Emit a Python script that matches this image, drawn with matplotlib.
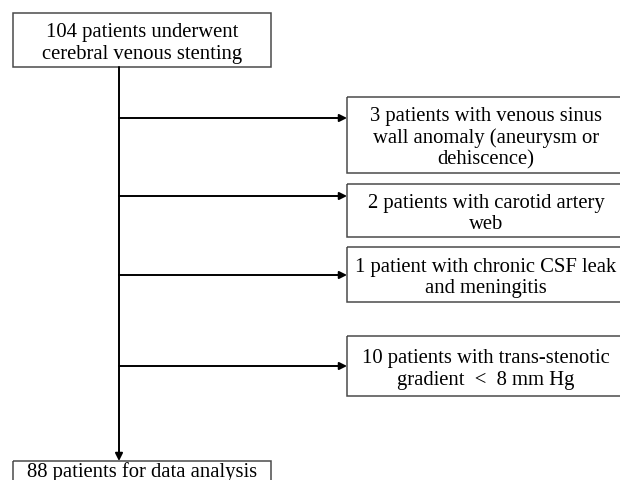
import matplotlib.pyplot as plt
from matplotlib.patches import Rectangle

# flowchart texts
top_text = "104 patients underwent\ncerebral venous stenting"
bottom_text = "88 patients for data analysis"
excl_texts = [
    "3 patients with venous sinus\nwall anomaly (aneurysm or\ndehiscence)",
    "2 patients with carotid artery\nweb",
    "1 patient with chronic CSF leak\nand meningitis",
    "10 patients with trans-stenotic\ngradient  <  8 mm Hg",
]

# layout (pixels, y downwards)
MAIN_X = 119
TOP_BOX = (13, 14, 271, 68)
BOT_BOX = (13, 462, 271, 500)
EXCL_LEFT = 347
EXCL_RIGHT = 625
EXCL_BOXES = [(98, 174), (185, 238), (248, 303), (337, 397)]
ARROW_Y = [119, 197, 276, 367]

FONT = dict(family="Liberation Serif", fontsize=14.9, color="black")
EDGE = "#4a4a4a"

fig = plt.figure(figsize=(6.2, 4.81), dpi=100)
ax = fig.add_axes([0, 0, 1, 1])
ax.set_xlim(0, 620)
ax.set_ylim(481, 0)
ax.axis("off")


def box(x0, y0, x1, y1, text, va_off=2.5):
    ax.add_patch(Rectangle((x0, y0), x1 - x0, y1 - y0, fill=False,
                           edgecolor=EDGE, lw=1.1, clip_on=True))
    ax.text((x0 + x1) / 2, (y0 + y1) / 2 + va_off, text, ha="center",
            va="center", linespacing=1.17, **FONT)


box(*TOP_BOX, top_text)
ax.add_patch(Rectangle((BOT_BOX[0], BOT_BOX[1]), BOT_BOX[2] - BOT_BOX[0], 40,
                       fill=False, edgecolor=EDGE, lw=1.1))
ax.text((BOT_BOX[0] + BOT_BOX[2]) / 2, 472, bottom_text, ha="center",
        va="center", **FONT)

arrow = dict(arrowstyle="-|>", color="black", lw=1.4, mutation_scale=11,
             shrinkA=0, shrinkB=0)
ax.annotate("", xy=(MAIN_X, BOT_BOX[1]), xytext=(MAIN_X, TOP_BOX[3]),
            arrowprops=arrow)

for (y0, y1), ay, t in zip(EXCL_BOXES, ARROW_Y, excl_texts):
    box(EXCL_LEFT, y0, EXCL_RIGHT, y1, t)
    ax.annotate("", xy=(EXCL_LEFT, ay), xytext=(MAIN_X, ay), arrowprops=arrow)

fig.savefig("out.png", dpi=100)
